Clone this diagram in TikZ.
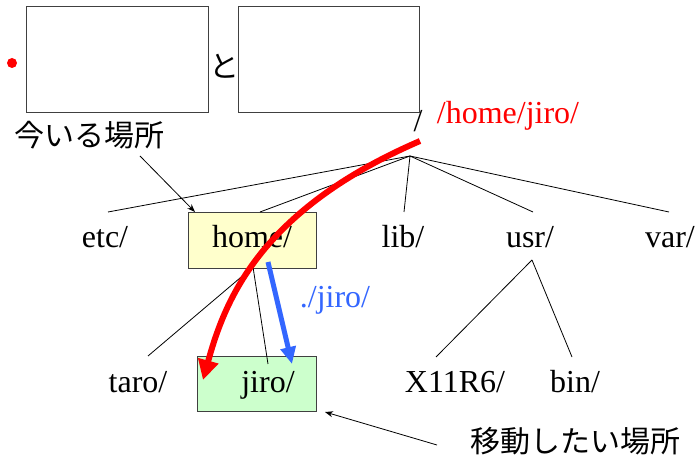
\documentclass[tikz,border=0pt]{standalone}
\usepackage{fontspec}
\setmainfont{Liberation Serif}
\newfontfamily\jp{Noto Sans CJK JP}
\usetikzlibrary{arrows.meta}
\definecolor{boxyellow}{HTML}{FFFFCC}
\definecolor{boxgreen}{HTML}{CCFFCC}
\definecolor{myblue}{HTML}{3366FF}
\definecolor{boxline}{HTML}{404040}
\tikzset{
  emptybox/.style={draw=boxline, line width=0.9pt, inner sep=0pt},
  dirtext/.style={font=\fontsize{32}{36}\selectfont, inner sep=0pt, anchor=base},
  jptext/.style={font=\jp\fontsize{30}{34}\selectfont, inner sep=0pt},
  treeline/.style={line width=0.8pt, black},
  pointer/.style={line width=0.8pt, black, -{Stealth[length=8pt,width=6pt]}},
}
\begin{document}
\begin{tikzpicture}[x=1pt,y=-1pt]
\path[use as bounding box] (0,0) rectangle (697,457);
% top boxes
\fill[red] (12,63) circle (5);
\node[emptybox, minimum width=182pt, minimum height=106pt] (b1) at (117,59) {};
\node[emptybox, minimum width=181pt, minimum height=106pt] (b2) at (328.5,59) {};
\node[jptext] (to) at (224,66) {と};
% labels
\node[jptext] (now) at (90,135) {今いる場所};
\node[jptext] (dest) at (575,441) {移動したい場所};
\node[dirtext, red] (abs) at (508,124) {/home/jiro/};
\node[dirtext] (root) at (418,132) {/};
% boxes
\node[emptybox, fill=boxyellow, minimum width=128pt, minimum height=56pt] (homebox) at (252,240) {};
\node[emptybox, fill=boxgreen, minimum width=119pt, minimum height=55pt] (jirobox) at (256.5,383.5) {};
% directory names
\node[dirtext] (etc) at (105,248) {etc/};
\node[dirtext] (home) at (252,248) {home/};
\node[dirtext] (lib) at (403,248) {lib/};
\node[dirtext] (usr) at (530,248) {usr/};
\node[dirtext] (var) at (670,248) {var/};
\node[dirtext] (taro) at (138,393) {taro/};
\node[dirtext] (jiro) at (268,393) {jiro/};
\node[dirtext] (x11) at (455,393) {X11R6/};
\node[dirtext] (bin) at (575,393) {bin/};
\node[dirtext, myblue] (rel) at (335,308) {./jiro/};
% junction coordinates
\coordinate (rj) at (410,156);
\coordinate (etcT) at (108,212);
\coordinate (homeT) at (260,212);
\coordinate (libT) at (404,212);
\coordinate (usrT) at (533,212);
\coordinate (varT) at (669,212);
\coordinate (homeB) at (253,267);
\coordinate (usrB) at (532,260);
\coordinate (taroT) at (148,356);
\coordinate (jiroT) at (268,364);
\coordinate (x11T) at (436,357);
\coordinate (binT) at (572,357);
% tree lines
\foreach \c in {etcT,homeT,libT,usrT,varT} \draw[treeline] (rj) -- (\c);
\draw[treeline] (homeB) -- (taroT);
\draw[treeline] (homeB) -- (jiroT);
\draw[treeline] (usrB) -- (x11T);
\draw[treeline] (usrB) -- (binT);
% pointers
\coordinate (nowE) at (140,156);
\coordinate (homeC) at (195,212);
\draw[pointer] (nowE) -- (homeC);
\coordinate (destS) at (437,445);
\coordinate (jiroC) at (325,412);
\draw[pointer] (destS) -- (jiroC);
% blue relative arrow
\coordinate (bS) at (268,262);
\coordinate (bE) at (292,364);
\draw[myblue, line width=5pt, -{Triangle[length=17pt,width=15pt]}] (bS) -- (bE);
% red absolute arrow
\coordinate (rS) at (420,141);
\coordinate (rE) at (203,380);
\draw[red, line width=6pt, -{Triangle[length=20pt,width=20pt]}] (rS) .. controls (260,210) and (225,300) .. (rE);
\end{tikzpicture}
\end{document}
